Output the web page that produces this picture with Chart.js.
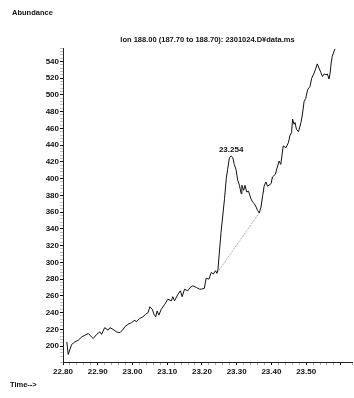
<!DOCTYPE html>
<html lang="en">
<head>
    <meta charset="UTF-8">
    <title>Ion 188.00 chromatogram</title>
    <script src="https://cdn.jsdelivr.net/npm/chart.js"></script>
    <style>
        body { margin: 0; background: #fff; }
        canvas { display: block; }
    </style>
</head>
<body>
    <canvas id="ionChart" width="354" height="398"></canvas>

    <script>
        // retention time (min)
        const times = [
            22.811, 22.815, 22.825, 22.834, 22.844, 22.854, 22.863, 22.873, 22.882, 22.887,
            22.897, 22.906, 22.911, 22.920, 22.930, 22.935, 22.944, 22.954, 22.964, 22.973,
            22.978, 22.987, 22.997, 23.007, 23.011, 23.021, 23.030, 23.038, 23.045, 23.050,
            23.057, 23.062, 23.067, 23.071, 23.076, 23.083, 23.093, 23.102, 23.112, 23.116,
            23.121, 23.131, 23.138, 23.143, 23.150, 23.159, 23.166, 23.174, 23.184, 23.193,
            23.198, 23.207, 23.212, 23.220, 23.227, 23.233, 23.239, 23.243, 23.246, 23.255,
            23.265, 23.270, 23.274, 23.279, 23.284, 23.289, 23.293, 23.298, 23.303, 23.308,
            23.313, 23.315, 23.320, 23.324, 23.329, 23.334, 23.341, 23.346, 23.351, 23.356,
            23.360, 23.365, 23.370, 23.375, 23.379, 23.384, 23.389, 23.399, 23.403, 23.411,
            23.418, 23.422, 23.427, 23.434, 23.442, 23.449, 23.453, 23.458, 23.461, 23.465,
            23.468, 23.472, 23.478, 23.485, 23.489, 23.494, 23.499, 23.504, 23.511, 23.516,
            23.523, 23.528, 23.532, 23.537, 23.542, 23.547, 23.552, 23.557, 23.561, 23.566,
            23.569, 23.572, 23.575, 23.583
        ];
        const abundance = [
            205, 190, 202, 205, 207, 211, 213, 215, 211, 209,
            214, 217, 214, 222, 219, 222, 220, 217, 216, 220,
            223, 226, 228, 231, 229, 233, 235, 238, 240, 247,
            244, 238, 235, 242, 237, 244, 250, 256, 254, 259,
            254, 262, 266, 259, 268, 266, 270, 272, 270, 268,
            268, 269, 281, 280, 288, 286, 290, 287, 291, 336,
            376, 400, 411, 425, 427, 425, 417, 411, 398, 392,
            382, 392, 386, 392, 384, 385, 376, 372, 370, 366,
            362, 359, 366, 380, 391, 396, 391, 394, 402, 405,
            415, 421, 417, 439, 437, 443, 451, 455, 471, 465,
            467, 459, 456, 467, 476, 492, 496, 506, 510, 520,
            526, 532, 537, 532, 527, 522, 525, 524, 525, 519,
            526, 538, 546, 555
        ];

        // integration baseline under the peak
        const baselineTimes = [23.243, 23.365];
        const baselineValues = [287, 359];

        // apex annotation
        const peakTime = 23.284;
        const peakValue = 427;
        const peakLabel = '23.254';

        const titleText = 'Ion 188.00 (187.70 to 188.70): 2301024.D\u00a5data.ms';
        const yAxisName = 'Abundance';
        const xAxisName = 'Time-->';

        const fontFamily = '"Liberation Sans", Arial, sans-serif';

        const traceData = times.map((t, i) => ({ x: t, y: abundance[i] }));
        const baselineData = baselineTimes.map((t, i) => ({ x: t, y: baselineValues[i] }));

        function isTenth(v) {
            const tenth = v * 10;
            return Math.abs(tenth - Math.round(tenth)) < 1e-6;
        }

        // draws the loose labels: axis names and the apex time
        const labelsPlugin = {
            id: 'looseLabels',
            afterDraw(chart) {
                const ctx = chart.ctx;
                const xs = chart.scales.x;
                const ys = chart.scales.y;
                ctx.save();
                ctx.fillStyle = '#111';
                ctx.font = 'bold 7.5px ' + fontFamily;
                ctx.textBaseline = 'middle';
                ctx.textAlign = 'left';
                ctx.fillText(yAxisName, 12, 13);
                ctx.fillText(xAxisName, 10, 385);
                ctx.textAlign = 'center';
                ctx.font = 'bold 8px ' + fontFamily;
                ctx.fillText(peakLabel, xs.getPixelForValue(peakTime), ys.getPixelForValue(peakValue) - 6);
                ctx.restore();
            }
        };

        const ctx = document.getElementById('ionChart').getContext('2d');
        const ionChart = new Chart(ctx, {
            type: 'line',
            data: {
                datasets: [{
                    data: traceData,
                    borderColor: '#111',
                    borderWidth: 1,
                    pointRadius: 0,
                    tension: 0
                }, {
                    data: baselineData,
                    borderColor: '#777',
                    borderWidth: 0.8,
                    borderDash: [1, 1],
                    pointRadius: 0,
                    tension: 0
                }]
            },
            options: {
                responsive: false,
                animation: false,
                layout: { padding: { top: 0, right: 1, bottom: 0, left: 0 } },
                plugins: {
                    legend: { display: false },
                    tooltip: { enabled: false },
                    title: {
                        display: true,
                        text: titleText,
                        fullSize: false,
                        color: '#111',
                        font: { family: fontFamily, size: 7.5, weight: 'bold' },
                        padding: { top: 35, bottom: 4 }
                    }
                },
                scales: {
                    x: {
                        type: 'linear',
                        min: 22.80,
                        max: 23.632,
                        afterFit(scale) { scale.height = 36; },
                        border: { display: true, color: '#222', width: 1, dash: [2, 1] },
                        grid: {
                            drawOnChartArea: false,
                            tickLength: 3,
                            color: (c) => (c.tick && isTenth(c.tick.value)) ? '#111' : '#888',
                            lineWidth: (c) => (c.tick && isTenth(c.tick.value)) ? 1 : 0.7
                        },
                        ticks: {
                            stepSize: 0.02,
                            autoSkip: false,
                            maxRotation: 0,
                            padding: 2,
                            color: '#111',
                            font: { family: fontFamily, size: 8, weight: 'bold' },
                            callback(value) {
                                return (isTenth(value) && value < 23.55) ? value.toFixed(2) : '';
                            }
                        }
                    },
                    y: {
                        type: 'linear',
                        min: 181,
                        max: 556,
                        afterFit(scale) { scale.width = 63; },
                        border: { display: true, color: '#222', width: 1, dash: [2, 1] },
                        grid: {
                            drawOnChartArea: false,
                            tickLength: 3,
                            color: (c) => (c.tick && c.tick.value % 20 === 0) ? '#111' : '#999',
                            lineWidth: (c) => (c.tick && c.tick.value % 20 === 0) ? 1 : 0.6
                        },
                        ticks: {
                            stepSize: 4,
                            autoSkip: false,
                            padding: 1,
                            color: '#111',
                            font: { family: fontFamily, size: 8, weight: 'bold' },
                            callback(value) {
                                return (value % 20 === 0) ? String(value) : '';
                            }
                        }
                    }
                }
            },
            plugins: [labelsPlugin]
        });
    </script>
</body>
</html>
